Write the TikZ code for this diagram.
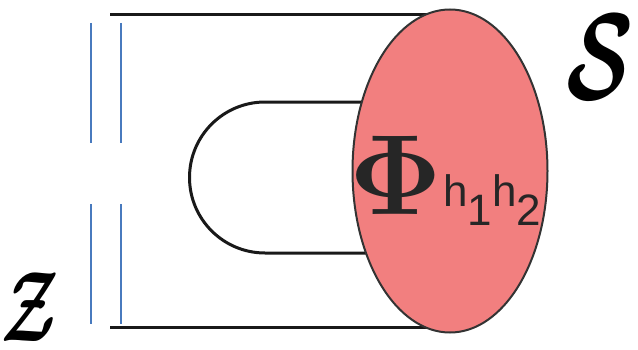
\RequirePackage{fix-cm}
\documentclass[tikz,border=0pt]{standalone}
\usepackage{amsmath,amssymb,bm}
\usepackage{xcolor}
\usepackage[no-math]{fontspec}
\usepackage{tikz}
\usetikzlibrary{positioning,backgrounds,calc,shapes.geometric}
\newfontfamily\subsans{Liberation Sans}
\definecolor{blobred}{RGB}{242,127,127}
\definecolor{wireblue}{RGB}{72,122,190}

\begin{document}
\begin{tikzpicture}[x=1pt,y=1pt,
  blob/.style={ellipse,draw=black!80,line width=2pt,fill=blobred,minimum width=195pt,minimum height=323pt,inner sep=0pt},
  wire/.style={line width=3pt,black!90},
  cut/.style={line width=1.3pt,wireblue}]
\useasboundingbox (0,0) rectangle (638,349);
\node[blob] (b) at (450,178) {};
\node[text=black!85] (phi) at (396,174) {\fontsize{114}{114}\selectfont$\mathbf{\Phi}$};
\node[anchor=base west,inner sep=0pt,text=black!85] (sub) at (443,143)
  {\subsans\fontsize{44}{44}\selectfont h\lower19pt\hbox{1}h\lower19pt\hbox{2}};
\node[inner sep=0pt,xscale=.8,yscale=1.25] (zz) at (30,42) {\fontsize{80}{80}\selectfont$\bm{\mathcal{Z}}$};
\node[inner sep=0pt,yscale=1.4] (ss) at (600,292) {\fontsize{88}{88}\selectfont$\bm{\mathcal{S}}$};
% outer and inner legs
\coordinate (t0) at (110,334); \coordinate (u0) at (110,22);
\coordinate (p0) at (265,247);
\begin{pgfonlayer}{background}
\draw[wire] (t0) -- (t0 -| b.center);
\draw[wire] (u0) -- (u0 -| b.center);
\draw[wire] (b.center |- p0) -- (p0) arc[start angle=90,end angle=270,radius=75.5] -- (b.center |- 96,96);
\end{pgfonlayer}
% cut
\foreach \x in {91,121}{
  \draw[cut] (\x,326) -- (\x,206);
  \draw[cut] (\x,145) -- (\x,25);
}
\end{tikzpicture}
\end{document}
